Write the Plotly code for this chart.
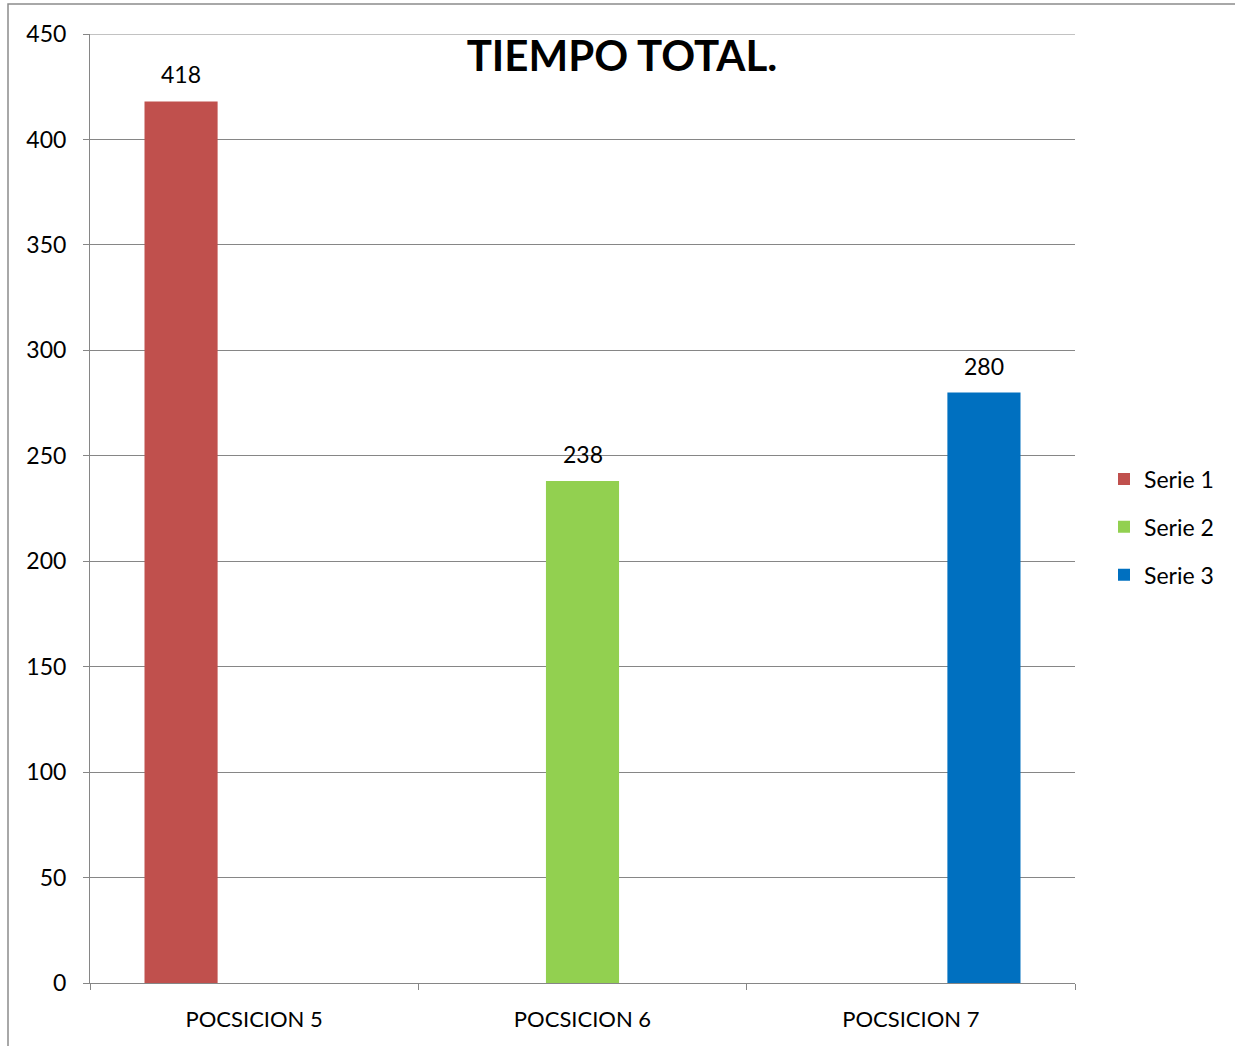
import plotly.graph_objects as go

categories = ["POCSICION 5", "POCSICION 6", "POCSICION 7"]
series_names = ["Serie 1", "Serie 2", "Serie 3"]
serie1 = [418, None, None]
serie2 = [None, 238, None]
serie3 = [None, None, 280]
colors = ["#C0504D", "#92D050", "#0070C0"]
y_ticks = [0, 50, 100, 150, 200, 250, 300, 350, 400, 450]

FONT = "Lato, Calibri, Carlito, sans-serif"
GRID = "#868686"
BARGAP = 0.332

fig = go.Figure()
all_series = [serie1, serie2, serie3]
n_series = len(all_series)
slot = (1 - BARGAP) / n_series
annotations = []
for i, (name, vals) in enumerate(zip(series_names, all_series)):
    fig.add_trace(go.Bar(
        x=categories, y=vals, name=name,
        marker=dict(color=colors[i], line=dict(width=0)),
        legendgroup=name,
    ))
    for ci, v in enumerate(vals):
        if v is None:
            continue
        annotations.append(dict(
            x=ci + (i - (n_series - 1) / 2) * slot, y=v, xref="x", yref="y",
            text=str(v), showarrow=False, yanchor="bottom", yshift=11,
            font=dict(family=FONT, size=23, color="black"),
        ))

W, H = 1235, 1046
L, R, T, B = 90, 160, 34, 63
pw, ph = W - L - R, H - T - B

def px_x(x):
    return (x - L) / pw

def px_y(y):
    return (H - B - y) / ph

fig.update_layout(
    width=W, height=H,
    margin=dict(l=L, r=R, t=T, b=B, autoexpand=False),
    paper_bgcolor="white", plot_bgcolor="white",
    barmode="group", bargap=BARGAP, bargroupgap=0,
    font=dict(family=FONT, size=23, color="black"),
    title=dict(text="<b>TIEMPO TOTAL.</b>", font=dict(family=FONT, size=42, color="black"),
               x=(622 - L) / pw, xref="paper", xanchor="center",
               y=(H - 56) / H, yref="container", yanchor="middle"),
    legend=dict(x=px_x(1104), y=px_y(527), xanchor="left", yanchor="middle",
                font=dict(family=FONT, size=23, color="black"),
                tracegroupgap=15, traceorder="grouped", itemwidth=30),
    showlegend=True,
    annotations=annotations,
    shapes=[
        dict(type="rect", xref="paper", yref="paper",
             x0=px_x(8), x1=px_x(1245), y0=px_y(1056), y1=px_y(4),
             line=dict(color="#8C8C8C", width=1.5), fillcolor="rgba(0,0,0,0)", layer="below"),
        dict(type="line", xref="paper", yref="y", x0=0, x1=1, y0=y_ticks[-1], y1=y_ticks[-1],
             line=dict(color=GRID, width=1), layer="below"),
    ],
)
fig.update_yaxes(range=[0, 450], tickvals=y_ticks, showgrid=True, gridcolor=GRID, gridwidth=1,
                 showline=True, linecolor=GRID, linewidth=1, ticks="outside", ticklen=6,
                 tickcolor=GRID, zeroline=False, ticklabelstandoff=12,
                 tickfont=dict(family=FONT, size=23, color="black"))
fig.update_xaxes(showline=True, linecolor=GRID, linewidth=1, ticks="outside", ticklen=6,
                 tickcolor=GRID, tickson="boundaries", showgrid=False, ticklabelstandoff=17,
                 tickfont=dict(family=FONT, size=22, color="black"))

fig.write_html("out.html")
